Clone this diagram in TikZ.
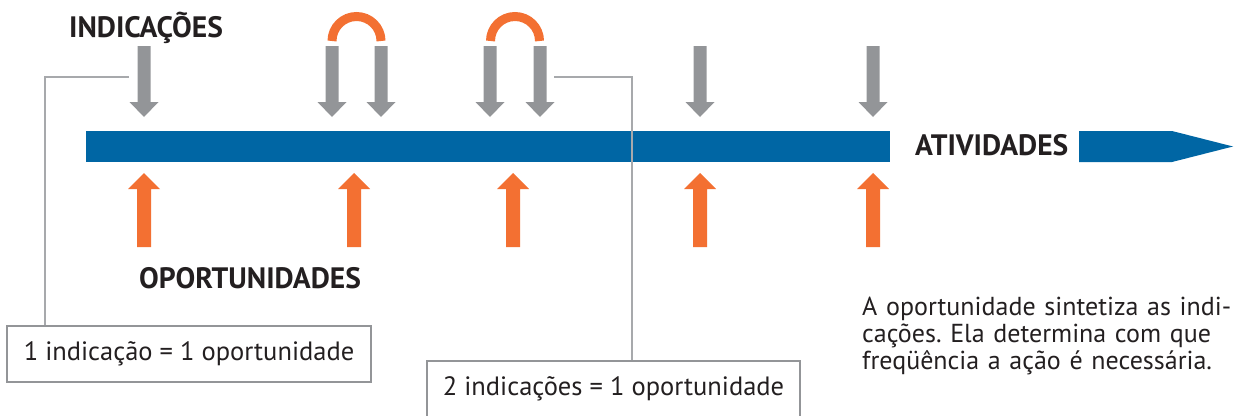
\documentclass[tikz,border=0pt]{standalone}
\usepackage{fontspec}
\setmainfont{PT Sans}
\definecolor{barblue}{HTML}{0066A4}
\definecolor{arrgray}{HTML}{939598}
\definecolor{arrorange}{HTML}{F37032}
\definecolor{linegray}{HTML}{A7A9AC}
\definecolor{txt}{HTML}{231F20}
\tikzset{
  downarr/.pic={\fill[arrgray] (-6.5,46) -- (6.5,46) -- (6.5,102) -- (14.5,102) -- (0,117) -- (-14.5,102) -- (-6.5,102) -- cycle;},
  uparr/.pic={\fill[arrorange] (-7,247) -- (7,247) -- (7,189) -- (16,189) -- (0,173) -- (-16,189) -- (-7,189) -- cycle;},
  label/.style={text=txt, font=\fontsize{29.5}{32}\selectfont\bfseries, inner sep=0pt, anchor=base west},
  box/.style={draw=arrgray, line width=2pt, fill=white, text=txt, font=\fontsize{26.5}{30}\selectfont, minimum height=56pt, inner sep=0pt},
  callout/.style={draw=linegray, line width=1.5pt},
  hoop/.style={draw=arrorange, line width=9pt},
}
\begin{document}
\frenchspacing
\begin{tikzpicture}[x=1pt,y=-1pt]
\useasboundingbox (0,0) rectangle (1234,415);
% labels
\node[label] (ind) at (69,37) {INDICAÇÕES};
\node[label] (opo) at (139,288) {OPORTUNIDADES};
\node[label] (ati) at (915,155) {ATIVIDADES};
% bar
\fill[barblue] (86,131) rectangle (890,162);
\fill[barblue] (1079,131) -- (1172,131) -- (1233,146.5) -- (1172,162) -- (1079,162) -- cycle;
% down arrows
\foreach \x in {144,332,381,490,540,700,873} \pic at (\x,0) {downarr};
% up arrows
\foreach \x in {144,354,513,700,873} \pic at (\x,0) {uparr};
% hoops
\draw[hoop] (332,41) .. controls (332,27.47) and (342.97,16.5) .. (356.5,16.5) .. controls (370.03,16.5) and (381,27.47) .. (381,41);
\draw[hoop] (490.5,41) .. controls (490.5,27.47) and (501.47,16.5) .. (515,16.5) .. controls (528.53,16.5) and (539.5,27.47) .. (539.5,41);
% boxes
\node[box, minimum width=364pt] (b1) at (189,354) {1 indicação = 1 oportunidade};
\node[box, minimum width=373pt] (b2) at (613.5,389) {2 indicações = 1 oportunidade};
% callouts
\coordinate (c1) at (129,77);
\coordinate (k1) at (45,77);
\draw[callout] (c1) -- (k1) -- (k1 |- b1.north);
\coordinate (c2) at (554,77);
\coordinate (k2) at (632,77);
\draw[callout] (c2) -- (k2) -- (k2 |- b2.north);
% paragraph
\node[text=txt, font=\fontsize{26}{27}\selectfont, inner sep=0pt, anchor=base west, text width=380pt, align=left] (par) at (862,315)
  {A oportunidade sintetiza as indi-\\cações. Ela determina com que\\freqüência a ação é necessária.};
\end{tikzpicture}
\end{document}
